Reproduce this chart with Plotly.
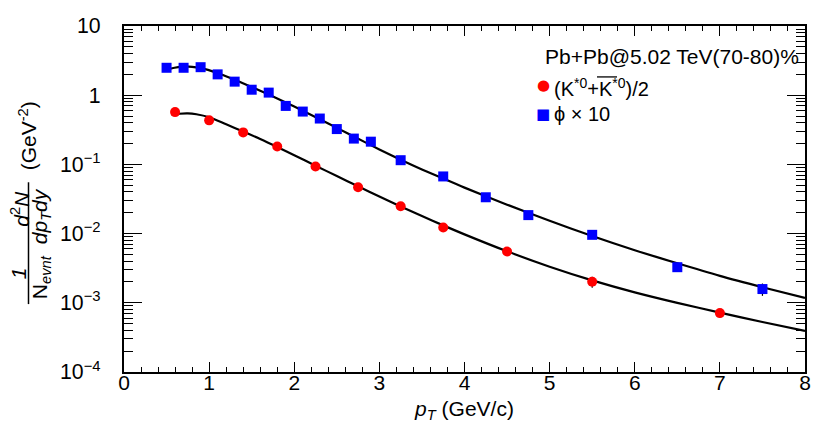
import plotly.graph_objects as go

# ---------------- data ----------------
kstar_pt = [0.6, 1.0, 1.4, 1.8, 2.25, 2.75, 3.25, 3.75, 4.5, 5.5, 7.0]
kstar_y = [0.57, 0.433, 0.29, 0.181, 0.093, 0.0468, 0.0248, 0.01225, 0.0055, 0.00201, 0.00071]
kstar_err = [0.07, 0.012, 0.008, 0.005, 0.0026, 0.0014, 0.0008, 0.0004, 0.0002, 0.00036, 0.0001]

phi_pt = [0.5, 0.7, 0.9, 1.1, 1.3, 1.5, 1.7, 1.9, 2.1, 2.3, 2.5, 2.7, 2.9, 3.25, 3.75,
          4.25, 4.75, 5.5, 6.5, 7.5]
phi_y = [2.49, 2.49, 2.54, 2.0, 1.57, 1.20, 1.09, 0.70, 0.58, 0.46, 0.324, 0.236, 0.213,
         0.115, 0.067, 0.0335, 0.0185, 0.0096, 0.00327, 0.00158]
phi_err = [0.12, 0.1, 0.1, 0.08, 0.06, 0.05, 0.04, 0.03, 0.025, 0.02, 0.015, 0.01, 0.01,
           0.005, 0.003, 0.0015, 0.0009, 0.0007, 0.00045, 0.00032]

# fit curves, values
kstar_fit_pt = [0.56, 0.65, 0.75, 0.85, 1.0, 1.2, 1.4, 1.6, 1.8, 2.0, 2.25, 2.5, 2.75, 3.0,
                3.25, 3.5, 3.75, 4.0, 4.5, 5.0, 5.5, 6.0, 6.5, 7.0, 7.5, 8.0]
kstar_fit_y = [0.519, 0.540, 0.547, 0.531, 0.481, 0.380, 0.2985, 0.2328, 0.1786, 0.1357,
               0.0959, 0.0678, 0.04816, 0.0344, 0.02474, 0.01795, 0.01315, 0.00975,
               0.005546, 0.003322, 0.002109, 0.001417, 0.000998, 0.000721, 0.000528,
               0.000392]

phi_fit_pt = [0.54, 0.7, 0.9, 1.1, 1.3, 1.5, 1.7, 1.9, 2.1, 2.3, 2.5, 2.7, 3.0, 3.25, 3.5,
              3.75, 4.0, 4.5, 5.0, 5.5, 6.0, 6.5, 7.0, 7.5, 8.0]
phi_fit_y = [2.41, 2.606, 2.46, 2.094, 1.675, 1.315, 1.023, 0.785, 0.596, 0.449, 0.337,
             0.2526, 0.1646, 0.117, 0.0847, 0.0624, 0.0462, 0.0262, 0.01531, 0.00923,
             0.00575, 0.00372, 0.00245, 0.00168, 0.001175]

FONT = "Liberation Sans, Arial, Helvetica, sans-serif"

fig = go.Figure()

fig.add_trace(go.Scatter(x=phi_fit_pt, y=phi_fit_y, mode="lines",
                         line=dict(color="black", width=2.2, shape="spline", smoothing=0.8),
                         showlegend=False, hoverinfo="skip"))
fig.add_trace(go.Scatter(x=kstar_fit_pt, y=kstar_fit_y, mode="lines",
                         line=dict(color="black", width=2.2, shape="spline", smoothing=0.8),
                         showlegend=False, hoverinfo="skip"))

fig.add_trace(go.Scatter(x=phi_pt, y=phi_y, mode="markers",
                         marker=dict(symbol="square", size=10, color="#0000ff"),
                         error_y=dict(type="data", array=phi_err, color="black", thickness=1.2, width=0),
                         showlegend=False))
fig.add_trace(go.Scatter(x=kstar_pt, y=kstar_y, mode="markers",
                         marker=dict(symbol="circle", size=10, color="#ff0000"),
                         error_y=dict(type="data", array=kstar_err, color="black", thickness=1.2, width=0),
                         showlegend=False))

# the page body has an 8px margin, so the figure is 822x430
OFF = 8
W, H = 822, 430
L, R, T, B = 116, 25, 17.5, 66
PW, PH = W - L - R, H - T - B


def px(xp):
    """page x pixel -> paper x"""
    return (xp - OFF - L) / PW


def py(yp):
    """page y pixel -> paper y"""
    return (H - B - (yp - OFF)) / PH


annotations = []
# y-axis title built from pieces (fraction); page pixel centres
ytitle_parts = [
    ("(GeV<sup>-2</sup>)", 28, 135),
    ("<i>1</i>", 18, 273),
    ("<i>d</i><sup>2</sup><i>N</i>", 20.5, 209),
    ("N<sub><i>evnt</i></sub>", 41, 277),
    ("<i>dp</i><sub><i>T</i></sub><i>dy</i>", 41, 216),
]
for txt, xx, yy in ytitle_parts:
    annotations.append(dict(text=txt, x=px(xx), y=py(yy), xref="paper", yref="paper",
                            showarrow=False, textangle=-90, xanchor="center", yanchor="middle",
                            borderpad=0,
                            font=dict(family=FONT, size=21, color="black")))

# legend
annotations.append(dict(text="Pb+Pb@5.02 TeV(70-80)%", x=px(801), y=py(56), xref="paper",
                        yref="paper", showarrow=False, xanchor="right", yanchor="middle",
                        font=dict(family=FONT, size=21, color="black")))
annotations.append(dict(text="(K<sup>*0</sup>+K<sup>*0</sup>)/2", x=px(552), y=py(87),
                        xref="paper", yref="paper", showarrow=False, xanchor="left",
                        yanchor="middle", font=dict(family=FONT, size=20, color="black")))
annotations.append(dict(text="\u03d5 \u00d7 10", x=px(552), y=py(114),
                        xref="paper", yref="paper", showarrow=False, xanchor="left",
                        yanchor="middle", font=dict(family=FONT, size=20, color="black")))
annotations.append(dict(text="\u25cf", x=px(543), y=py(85), xref="paper", yref="paper",
                        showarrow=False, xanchor="center", yanchor="middle",
                        font=dict(family="DejaVu Sans", size=15, color="#ff0000")))
annotations.append(dict(text="\u25a0", x=px(543), y=py(114), xref="paper", yref="paper",
                        showarrow=False, xanchor="center", yanchor="middle",
                        font=dict(family="DejaVu Sans", size=15, color="#0000ff")))

shapes = [
    # fraction bar of y title
    dict(type="line", xref="paper", yref="paper", x0=px(28.5), x1=px(28.5), y0=py(182), y1=py(304),
         line=dict(color="black", width=1.5)),
    # overline over anti-K*
    dict(type="line", xref="paper", yref="paper", x0=px(597), x1=px(617), y0=py(76.5), y1=py(76.5),
         line=dict(color="black", width=1.3)),
]

fig.update_layout(
    width=W, height=H,
    margin=dict(l=L, r=R, t=T, b=B, pad=0),
    paper_bgcolor="white", plot_bgcolor="white",
    font=dict(family=FONT, color="black"),
    showlegend=False,
    annotations=annotations,
    shapes=shapes,
    xaxis=dict(range=[0, 8], dtick=1, tick0=0, ticks="inside", ticklen=10, tickwidth=1.3,
               tickcolor="black", showline=True, linewidth=2, linecolor="black",
               mirror="allticks", showgrid=False, zeroline=False, automargin=False,
               minor=dict(dtick=0.2, ticks="inside", ticklen=5, tickwidth=1.3,
                          tickcolor="black", showgrid=False),
               ticklabelstandoff=-9,
               tickfont=dict(family=FONT, size=21, color="black"),
               title=dict(text="<i>p</i><sub><i>T</i></sub> (GeV/c)", standoff=8,
                          font=dict(family=FONT, size=21, color="black"))),
    yaxis=dict(type="log", range=[-4, 1], dtick=1, ticks="inside", ticklen=18, tickwidth=1.3,
               tickcolor="black", showline=True, linewidth=2, linecolor="black",
               mirror="allticks", showgrid=False, zeroline=False, automargin=False,
               exponentformat="power", showexponent="all",
               minor=dict(ticks="inside", ticklen=9, tickwidth=1.3, tickcolor="black",
                          showgrid=False),
               ticklabelstandoff=18,
               tickfont=dict(family=FONT, size=17, color="black")),
)

fig.write_html("out.html")
